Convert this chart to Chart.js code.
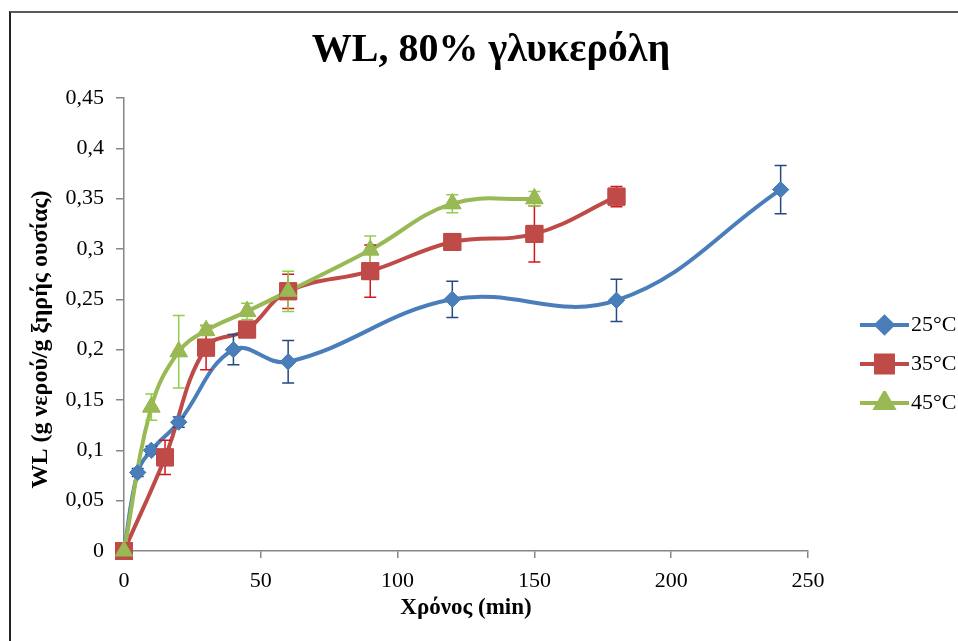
<!DOCTYPE html>
<html>
<head>
<meta charset="utf-8">
<script src="https://cdn.jsdelivr.net/npm/chart.js@4.4.1/dist/chart.umd.min.js"></script>
<style>
  html, body { margin: 0; padding: 0; background: #fff; overflow: hidden; }
  #wrap { position: relative; width: 958px; height: 641px; }
  #frame { position: absolute; left: 9px; top: 11px; width: 2000px; height: 2000px;
           border-top: 2px solid #5a5a5a; border-left: 2px solid #222; pointer-events: none; }
</style>
</head>
<body>
<div id="wrap">
  <canvas id="chart" width="958" height="641"></canvas>
  <div id="frame"></div>
</div>
<script>
// time (min) and WL values
const time25 = [0, 5, 10, 20, 40, 60, 120, 180, 240];
const wl25   = [0, 0.078, 0.1, 0.128, 0.2, 0.188, 0.25, 0.249, 0.359];
const err25  = [0, 0.004, 0.004, 0.005, 0.015, 0.021, 0.018, 0.021, 0.024];

const time35 = [0, 15, 30, 45, 60, 90, 120, 150, 180];
const wl35   = [0, 0.093, 0.202, 0.22, 0.258, 0.278, 0.307, 0.315, 0.352];
const err35  = [0, 0.017, 0.022, 0.005, 0.017, 0.026, 0.004, 0.028, 0.01];

const time45 = [0, 10, 20, 30, 45, 60, 90, 120, 150];
const wl45   = [0, 0.143, 0.198, 0.219, 0.238, 0.258, 0.299, 0.345, 0.35];
const err45  = [0, 0.013, 0.036, 0.005, 0.008, 0.02, 0.014, 0.009, 0.007];

const seriesLabels = ['25°C', '35°C', '45°C'];

const serif = "'Liberation Serif', 'Times New Roman', serif";

const toPoints = (xs, ys) => xs.map((x, i) => ({ x: x, y: ys[i] }));

// legend icon: line with the marker in the middle
function legendIcon(color, style, radius) {
  const c = document.createElement('canvas');
  c.width = 93; c.height = 24;
  const g = c.getContext('2d');
  g.strokeStyle = color;
  g.lineWidth = 4;
  g.beginPath();
  g.moveTo(44, 12);
  g.lineTo(93, 12);
  g.stroke();
  g.fillStyle = color;
  g.strokeStyle = color;
  Chart.helpers.drawPoint(g, { pointStyle: style, radius: radius, rotation: 0, borderWidth: 1 }, 68.5, 12);
  g.fill();
  return c;
}

// error bars, then markers again so they sit above every line (as in Excel)
const errorBars = {
  id: 'errorBars',
  afterDatasetsDraw(chart) {
    const { ctx, scales: { x, y } } = chart;
    chart.data.datasets.forEach(ds => {
      ctx.save();
      ctx.strokeStyle = ds.errorColor;
      ctx.lineWidth = 1.5;
      ds.data.forEach((p, j) => {
        const e = ds.errors[j];
        if (!e) return;
        const px = x.getPixelForValue(p.x);
        const top = y.getPixelForValue(p.y + e);
        const bot = y.getPixelForValue(p.y - e);
        ctx.beginPath();
        ctx.moveTo(px, top); ctx.lineTo(px, bot);
        ctx.moveTo(px - 6, top); ctx.lineTo(px + 6, top);
        ctx.moveTo(px - 6, bot); ctx.lineTo(px + 6, bot);
        ctx.stroke();
      });
      ctx.restore();
    });
    const big = { left: -1e4, top: -1e4, right: 1e4, bottom: 1e4 };
    chart.data.datasets.forEach((ds, i) => {
      chart.getDatasetMeta(i).data.forEach(pt => pt.draw(ctx, big));
    });
  }
};

const lineDefaults = {
  borderWidth: 4,
  tension: 0.4,
  clip: false,
  pointBorderWidth: 1
};

const datasets = [
  Object.assign({}, lineDefaults, {
    label: seriesLabels[0],
    data: toPoints(time25, wl25),
    errors: err25,
    borderColor: '#4a7ebb',
    backgroundColor: '#4a7ebb',
    errorColor: '#234a82',
    pointStyle: 'rectRot',
    pointRadius: 8,
    order: 2,
    icon: legendIcon('#4a7ebb', 'rectRot', 8)
  }),
  Object.assign({}, lineDefaults, {
    label: seriesLabels[1],
    data: toPoints(time35, wl35),
    errors: err35,
    borderColor: '#be4b48',
    backgroundColor: '#be4b48',
    errorColor: '#d4161c',
    pointStyle: 'rect',
    pointRadius: 12,
    order: 1,
    icon: legendIcon('#be4b48', 'rect', 12)
  }),
  Object.assign({}, lineDefaults, {
    label: seriesLabels[2],
    data: toPoints(time45, wl45),
    errors: err45,
    borderColor: '#98b954',
    backgroundColor: '#98b954',
    errorColor: '#8fd04a',
    pointStyle: 'triangle',
    pointRadius: 10,
    order: 0,
    icon: legendIcon('#98b954', 'triangle', 10)
  })
];

new Chart(document.getElementById('chart'), {
  type: 'line',
  data: { datasets: datasets },
  plugins: [errorBars],
  options: {
    responsive: false,
    devicePixelRatio: 1,
    animation: false,
    layout: { padding: { left: 24, right: 0, top: 0, bottom: 0 } },
    scales: {
      x: {
        type: 'linear',
        min: 0,
        max: 250,
        ticks: { stepSize: 50, color: '#000', padding: 10, font: { family: serif, size: 22 } },
        grid: { drawOnChartArea: false, tickLength: 7, color: '#868686', lineWidth: 1.5 },
        border: { color: '#868686', width: 1.5 },
        title: {
          display: true,
          text: 'Χρόνος (min)',
          color: '#000',
          font: { family: serif, size: 23, weight: 'bold' },
          padding: { top: 0, bottom: 19 }
        },
        afterFit: s => { s.height = 90; }
      },
      y: {
        min: 0,
        max: 0.45,
        ticks: {
          stepSize: 0.05,
          color: '#000',
          padding: 12,
          font: { family: serif, size: 22 },
          callback: v => String(Math.round(v * 100) / 100).replace('.', ',')
        },
        grid: { drawOnChartArea: false, tickLength: 8, color: '#868686', lineWidth: 1.5 },
        border: { color: '#868686', width: 1.5 },
        title: {
          display: true,
          text: 'WL (g νερού/g ξηρής ουσίας)\u00a0\u00a0\u00a0\u00a0\u00a0',
          color: '#000',
          font: { family: serif, size: 24, weight: 'bold' },
          padding: { top: 2, bottom: 0 }
        },
        afterFit: s => { s.width = 100; }
      }
    },
    plugins: {
      title: {
        display: true,
        text: 'WL, 80% γλυκερόλη',
        color: '#000',
        font: { family: serif, size: 40, weight: 'bold' },
        padding: { top: 27, bottom: 23 }
      },
      legend: {
        position: 'right',
        maxWidth: 150,
        title: { display: true, text: '', font: { size: 10 }, padding: { top: 75, bottom: 0 } },
        labels: {
          usePointStyle: true,
          pointStyleWidth: 75,
          padding: 17,
          color: '#000',
          font: { family: serif, size: 22 },
          sort: (a, b) => a.datasetIndex - b.datasetIndex,
          generateLabels: chart => {
            const items = Chart.defaults.plugins.legend.labels.generateLabels(chart);
            items.forEach(it => { it.pointStyle = chart.data.datasets[it.datasetIndex].icon; });
            return items;
          }
        }
      },
      tooltip: { enabled: false }
    }
  }
});
</script>
</body>
</html>
